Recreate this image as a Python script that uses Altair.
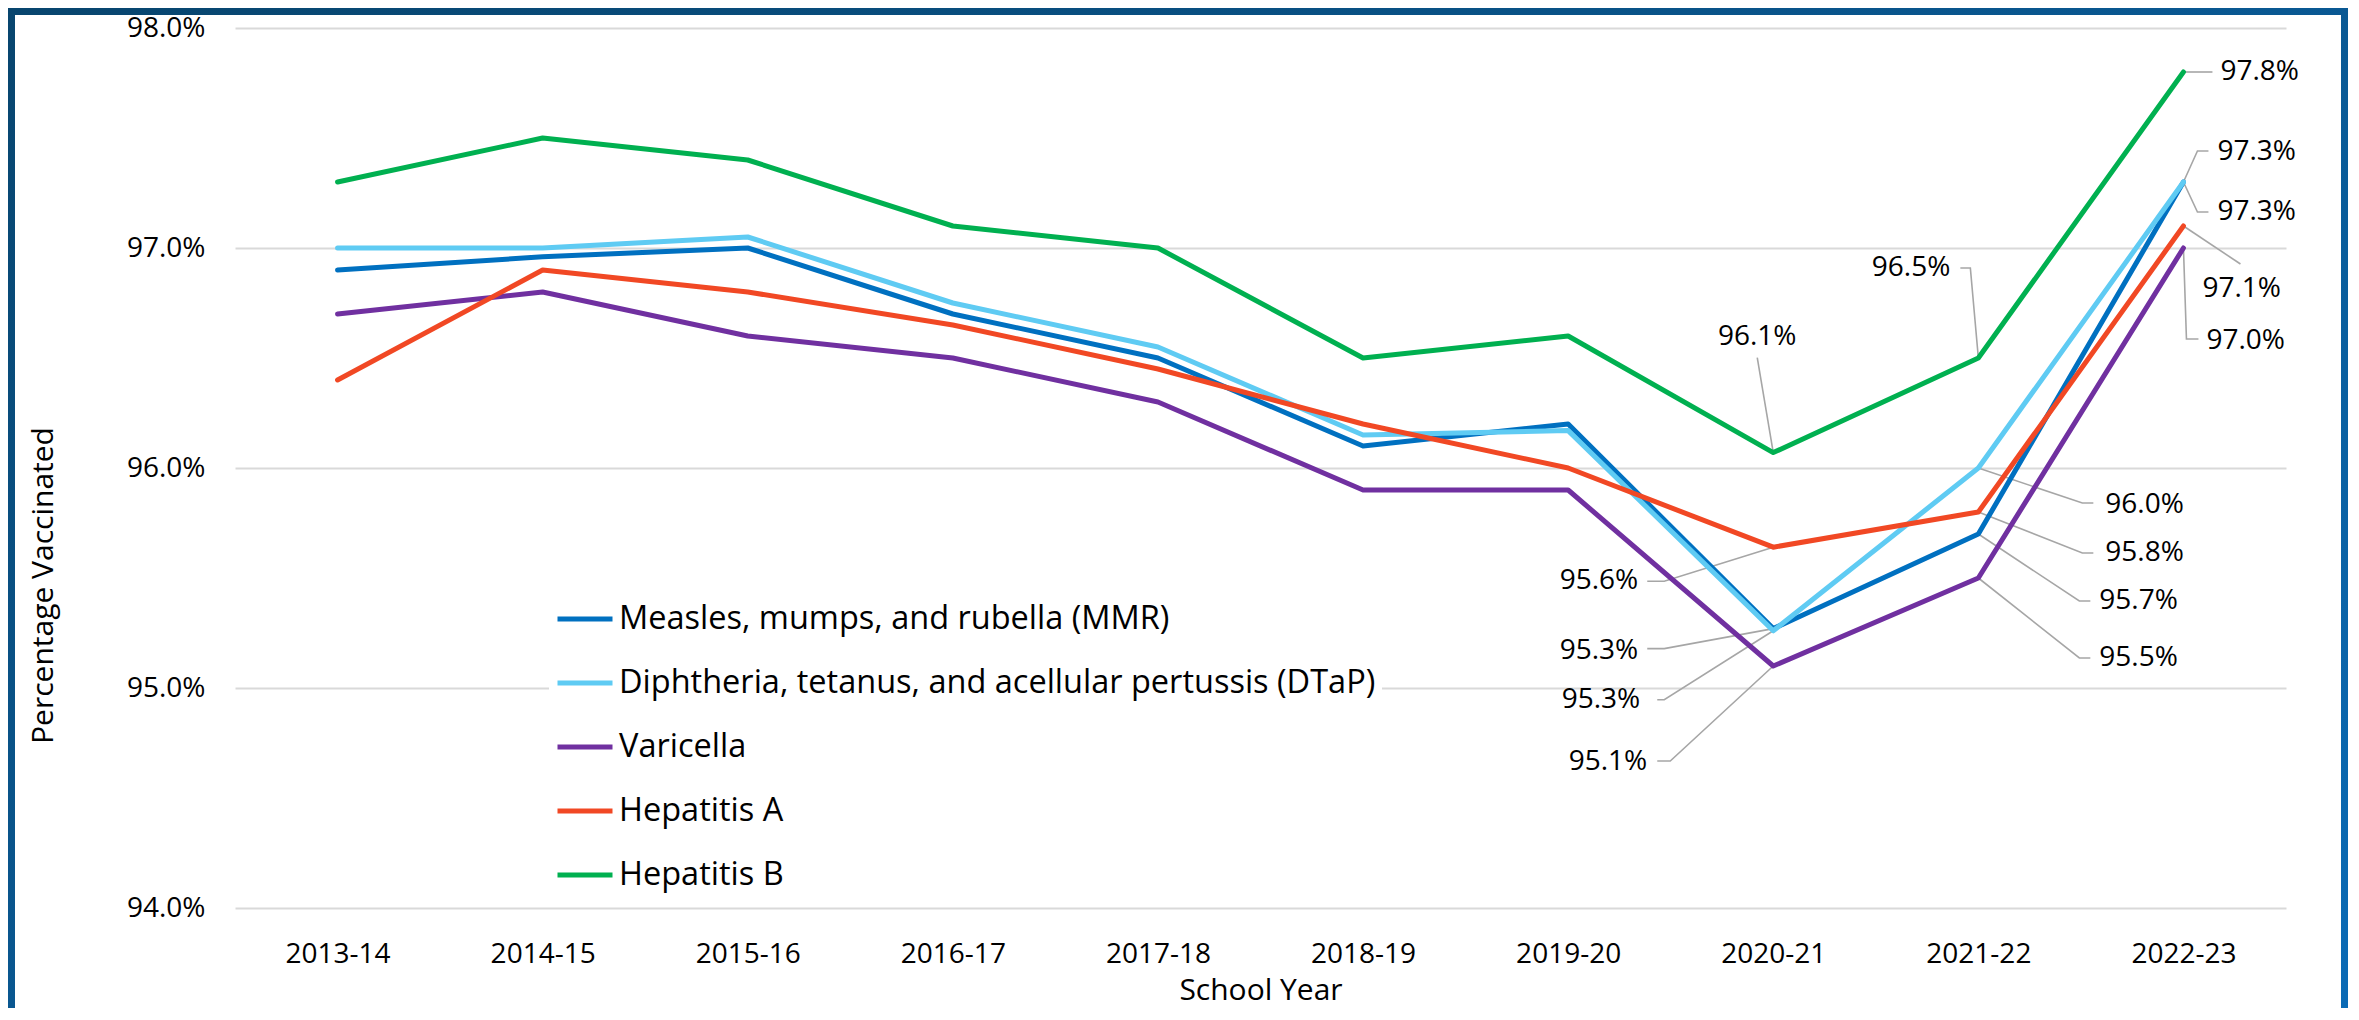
import altair as alt
import pandas as pd

# ---------------- data ----------------
years = ["2013-14", "2014-15", "2015-16", "2016-17", "2017-18",
         "2018-19", "2019-20", "2020-21", "2021-22", "2022-23"]

series_names = [
    "Measles, mumps, and rubella (MMR)",
    "Diphtheria, tetanus, and acellular pertussis (DTaP)",
    "Varicella",
    "Hepatitis A",
    "Hepatitis B",
]
series_colors = ["#0070C0", "#5FCBF3", "#7030A0", "#F14824", "#00B050"]

mmr = [96.90, 96.96, 97.00, 96.70, 96.50, 96.10, 96.20, 95.27, 95.70, 97.30]
dtap = [97.00, 97.00, 97.05, 96.75, 96.55, 96.15, 96.17, 95.26, 96.00, 97.30]
varicella = [96.70, 96.80, 96.60, 96.50, 96.30, 95.90, 95.90, 95.10, 95.50, 97.00]
hep_a = [96.40, 96.90, 96.80, 96.65, 96.45, 96.20, 96.00, 95.64, 95.80, 97.10]
hep_b = [97.30, 97.50, 97.40, 97.10, 97.00, 96.50, 96.60, 96.07, 96.50, 97.80]
series_values = [mmr, dtap, varicella, hep_a, hep_b]

y_ticks = [94, 95, 96, 97, 98]

# data-label placement (which point, and pixel offsets of label / leader line)
label_series = [4, 1, 0, 3, 2, 4, 1, 3, 0, 2, 4, 3, 0, 1, 2]
label_year = [9, 9, 9, 9, 9, 8, 8, 8, 8, 8, 7, 7, 7, 7, 7]
label_align = ["left", "left", "left", "left", "left",
               "right", "left", "left", "left", "left",
               "center", "right", "right", "right", "right"]
label_dx = [37, 34, 34, 19, 23, -28, 127, 127, 121, 121, -16, -135, -135, -133, -126]
label_dy = [0, -30, 30, 63, 93, -90, 37, 41, 67, 80, -116, 34, 22, 69, 96]
leader_mid = [(29, 0), (14, -31), (14, 30), (57, 38), (3, 91),
              (-8, -90), (104, 35), (104, 41), (101, 67), (101, 80),
              (-16, -95), (-109, 34), (-109, 20), (-109, 69), (-103, 95)]
leader_end = [(29, 0), (25, -31), (25, 30), (57, 38), (15, 91),
              (-18, -90), (115, 35), (115, 41), (112, 67), (112, 80),
              (-16, -95), (-126, 34), (-126, 20), (-116, 69), (-116, 95)]

# ---------------- layout ----------------
PLOT_W, PLOT_H = 2051, 880
PAD = {"left": 227, "top": 20, "right": 62, "bottom": 100}
TOTAL_W = PAD["left"] + PLOT_W + PAD["right"]
TOTAL_H = PAD["top"] + PLOT_H + PAD["bottom"]
Y_MIN, Y_MAX = y_ticks[0], y_ticks[-1]
PX_PER_X = PLOT_W / len(years)
PX_PER_Y = PLOT_H / (Y_MAX - Y_MIN)
FONT = "Open Sans"

# ---------------- frames ----------------
rows = []
for s, vals in zip(series_names, series_values):
    for i, v in enumerate(vals):
        rows.append({"series": s, "x": i, "v": v})
lines_df = pd.DataFrame(rows)

lab_rows, lead_rows = [], []
for k in range(len(label_series)):
    si, yi = label_series[k], label_year[k]
    v = series_values[si][yi]
    lab_rows.append({
        "x": yi + label_dx[k] / PX_PER_X,
        "v": v - label_dy[k] / PX_PER_Y,
        "value": v,
        "align": label_align[k],
    })
    pts = [(0, 0), leader_mid[k], leader_end[k]]
    for step, (px, py) in enumerate(pts):
        lead_rows.append({"id": k, "step": step,
                          "x": yi + px / PX_PER_X,
                          "v": v - py / PX_PER_Y})
labels_df = pd.DataFrame(lab_rows)
leaders_df = pd.DataFrame(lead_rows)

x_scale = alt.Scale(domain=[-0.5, len(years) - 0.5], nice=False, zero=False)
y_scale = alt.Scale(domain=[Y_MIN, Y_MAX], nice=False, zero=False)

year_expr = "[" + ",".join("'" + y + "'" for y in years) + "][datum.value]"

x_axis = alt.Axis(
    values=list(range(len(years))), labelExpr=year_expr,
    grid=False, domain=False, ticks=False, tickSize=0,
    labelFont=FONT, labelFontSize=28, labelColor="#000000",
    labelBaseline="alphabetic", labelPadding=54, labelFlush=False,
    labelOverlap=False,
    title="School Year", titleFont=FONT, titleFontSize=30,
    titleFontWeight="normal", titleColor="#000000",
    titleY=91, titleBaseline="alphabetic",
)
y_axis = alt.Axis(
    values=y_ticks, labelExpr="format(datum.value, '.1f') + '%'",
    grid=True, gridColor="#D9D9D9", gridWidth=2,
    domain=False, ticks=False, tickSize=0, labelPadding=30,
    labelFont=FONT, labelFontSize=28, labelColor="#000000",
    title="Percentage Vaccinated", titleFont=FONT, titleFontSize=30,
    titleFontWeight="normal", titleColor="#000000",
    titleAngle=270, titleX=-192, titleY=557, titleAlign="center",
    titleBaseline="middle",
)

legend = alt.Legend(
    orient="none", legendX=314, legendY=555, title=None,
    symbolType="stroke", symbolSize=3025, symbolStrokeWidth=5,
    labelFont=FONT, labelFontSize=32.5, labelColor="#000000",
    labelLimit=1500, labelOffset=4, rowPadding=17,
    fillColor="#FFFFFF", padding=6,
)

leaders = alt.Chart(leaders_df).mark_line(
    color="#A6A6A6", strokeWidth=1.6
).encode(
    x=alt.X("x:Q", scale=x_scale),
    y=alt.Y("v:Q", scale=y_scale),
    detail="id:N",
    order="step:Q",
)

lines = alt.Chart(lines_df).mark_line(
    strokeWidth=5, strokeJoin="round", strokeCap="round"
).encode(
    x=alt.X("x:Q", scale=x_scale, axis=x_axis),
    y=alt.Y("v:Q", scale=y_scale, axis=y_axis),
    color=alt.Color("series:N",
                    scale=alt.Scale(domain=series_names, range=series_colors),
                    sort=series_names, legend=legend),
)


def text_layer(al):
    return alt.Chart(labels_df).transform_filter(
        alt.datum.align == al
    ).transform_calculate(
        txt="format(datum.value, '.1f') + '%'"
    ).mark_text(
        align=al, baseline="middle", font=FONT, fontSize=28, color="#000000"
    ).encode(
        x=alt.X("x:Q", scale=x_scale),
        y=alt.Y("v:Q", scale=y_scale),
        text="txt:N",
    )


frame = alt.Chart(pd.DataFrame({"k": [0]})).mark_rect(
    fillOpacity=0,
    stroke=alt.LinearGradient(
        gradient="linear",
        stops=[alt.GradientStop(color="#08456E", offset=0),
               alt.GradientStop(color="#0B6CB8", offset=1)],
        x1=0, y1=0, x2=1, y2=1),
    strokeWidth=14,
).encode(
    x=alt.value(-PAD["left"]),
    x2=alt.value(TOTAL_W - PAD["left"]),
    y=alt.value(-PAD["top"]),
    y2=alt.value(TOTAL_H + 60),
)

chart = alt.layer(
    leaders, lines, text_layer("left"), text_layer("right"),
    text_layer("center"), frame
).properties(
    width=PLOT_W, height=PLOT_H, padding=PAD,
    autosize=alt.AutoSizeParams(type="none"), background="#FFFFFF",
).configure_view(strokeWidth=0)

chart.save("out.html", embed_options={"renderer": "svg", "actions": False})
